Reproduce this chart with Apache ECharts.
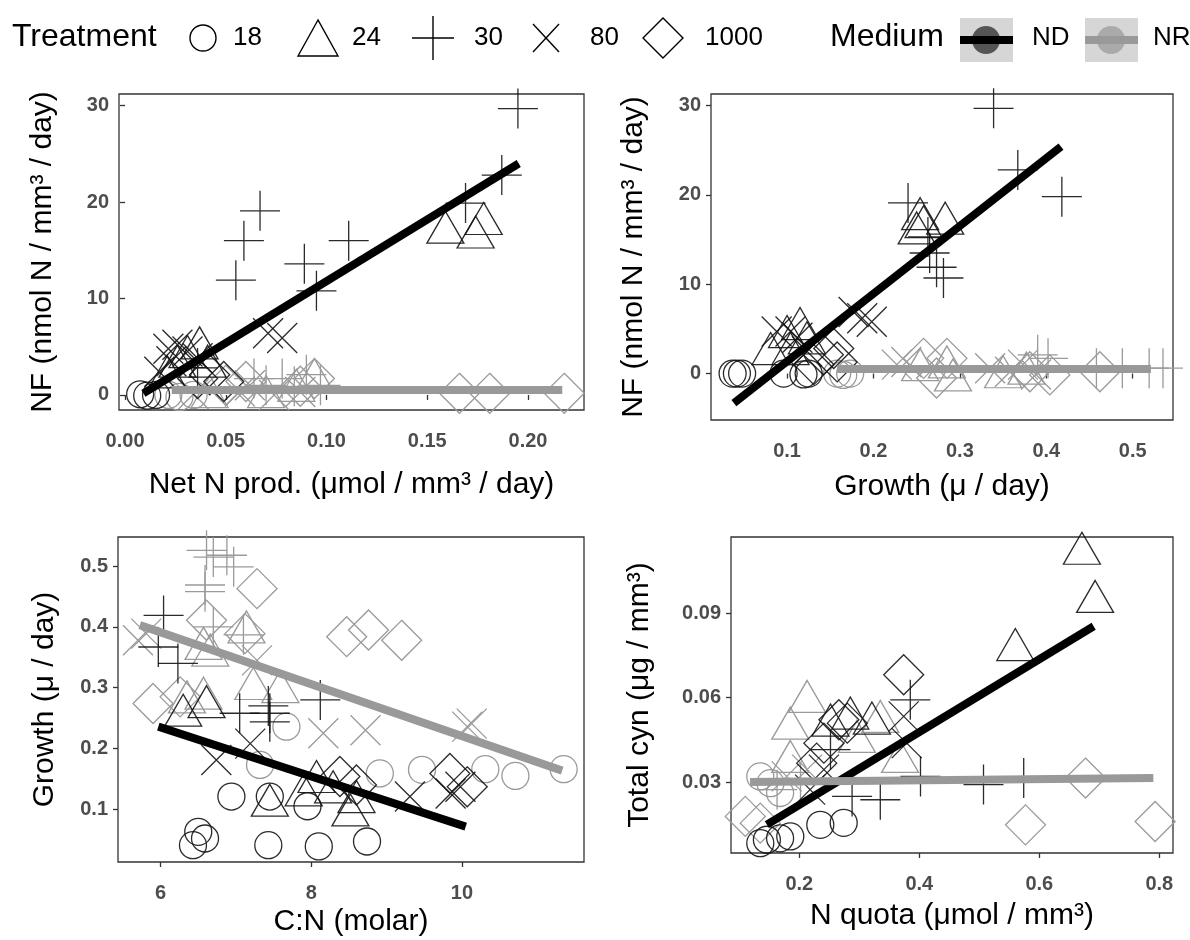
<!DOCTYPE html>
<html>
<head>
<meta charset="utf-8">
<script src="https://cdn.jsdelivr.net/npm/echarts@6/dist/echarts.min.js"></script>
<style>
  html, body { margin: 0; background: #fff; }
  #chart { width: 1190px; height: 940px; }
</style>
</head>
<body>
<div id="chart"></div>
<script>
// levels
const treatments = ['18', '24', '30', '80', '1000'];
const media = ['ND', 'NR'];

// points: [x, y, treatment, medium]
const netNvsNF = [
  [0.195, 29.7, '30', 'ND'], [0.187, 22.8, '30', 'ND'], [0.169, 19.9, '30', 'ND'], [0.067, 19.1, '30', 'ND'],
  [0.059, 16.0, '30', 'ND'], [0.055, 11.9, '30', 'ND'], [0.089, 13.6, '30', 'ND'], [0.095, 10.8, '30', 'ND'],
  [0.111, 16.0, '30', 'ND'], [0.036, 2.8, '30', 'ND'],
  [0.159, 17.4, '24', 'ND'], [0.178, 18.3, '24', 'ND'], [0.174, 16.9, '24', 'ND'], [0.037, 5.4, '24', 'ND'],
  [0.031, 4.5, '24', 'ND'], [0.026, 3.5, '24', 'ND'], [0.041, 3.5, '24', 'ND'], [0.021, 2.4, '24', 'ND'],
  [0.071, 6.4, '80', 'ND'], [0.078, 5.9, '80', 'ND'], [0.0215, 4.8, '80', 'ND'], [0.026, 5.2, '80', 'ND'],
  [0.031, 4.5, '80', 'ND'], [0.023, 3.5, '80', 'ND'], [0.036, 3.8, '80', 'ND'], [0.017, 2.4, '80', 'ND'],
  [0.0075, 0.07, '18', 'ND'], [0.011, -0.07, '18', 'ND'], [0.0154, 0, '18', 'ND'],
  [0.042, 2.1, '1000', 'ND'], [0.049, 1.4, '1000', 'ND'], [0.036, 1.7, '1000', 'ND'],
  [0.0215, 0, '18', 'NR'], [0.027, -0.2, '18', 'NR'], [0.034, 0, '18', 'NR'],
  [0.057, 0.35, '80', 'NR'], [0.062, 1.0, '80', 'NR'], [0.074, 0, '80', 'NR'], [0.034, 0.1, '80', 'NR'], [0.087, 0.3, '80', 'NR'],
  [0.064, 1.7, '30', 'NR'], [0.070, 1.0, '30', 'NR'], [0.078, 1.7, '30', 'NR'], [0.084, 0.9, '30', 'NR'],
  [0.090, 2.1, '30', 'NR'], [0.097, 1.0, '30', 'NR'],
  [0.166, 0.17, '1000', 'NR'], [0.181, 0.17, '1000', 'NR'], [0.218, 0.17, '1000', 'NR'], [0.094, 1.7, '1000', 'NR'],
  [0.087, 0.9, '1000', 'NR'], [0.060, 1.4, '1000', 'NR'], [0.050, 1.0, '1000', 'NR'],
  [0.094, 2.1, '24', 'NR'], [0.085, 1.0, '24', 'NR'], [0.070, 0.35, '24', 'NR'], [0.042, 0.35, '24', 'NR']
];

const growthVsNF = [
  [0.339, 29.7, '30', 'ND'], [0.367, 22.8, '30', 'ND'], [0.418, 19.8, '30', 'ND'], [0.240, 19.1, '30', 'ND'],
  [0.263, 15.3, '30', 'ND'], [0.265, 13.5, '30', 'ND'], [0.273, 11.9, '30', 'ND'], [0.281, 10.7, '30', 'ND'],
  [0.254, 17.9, '24', 'ND'], [0.258, 17.0, '24', 'ND'], [0.283, 17.4, '24', 'ND'], [0.250, 16.3, '24', 'ND'],
  [0.115, 5.6, '24', 'ND'], [0.100, 4.7, '24', 'ND'], [0.081, 2.8, '24', 'ND'], [0.104, 2.8, '24', 'ND'], [0.123, 4.0, '24', 'ND'],
  [0.177, 6.9, '80', 'ND'], [0.187, 6.2, '80', 'ND'], [0.198, 5.8, '80', 'ND'], [0.088, 4.7, '80', 'ND'],
  [0.104, 4.7, '80', 'ND'], [0.112, 4.0, '80', 'ND'], [0.123, 2.5, '80', 'ND'],
  [0.037, 0, '18', 'ND'], [0.042, 0, '18', 'ND'], [0.048, 0, '18', 'ND'], [0.096, 0, '18', 'ND'],
  [0.119, -0.1, '18', 'ND'], [0.125, 0, '18', 'ND'],
  [0.154, 2.8, '1000', 'ND'], [0.142, 2.1, '1000', 'ND'], [0.131, 1.0, '1000', 'ND'], [0.158, 1.3, '1000', 'ND'],
  [0.158, 0, '18', 'NR'], [0.173, 0, '18', 'NR'], [0.165, -0.15, '18', 'NR'],
  [0.227, 1.0, '80', 'NR'], [0.238, 1.3, '80', 'NR'], [0.335, 0.6, '80', 'NR'], [0.358, 0.2, '80', 'NR'],
  [0.373, 1.0, '80', 'NR'], [0.388, -0.1, '80', 'NR'],
  [0.390, 2.1, '30', 'NR'], [0.402, 1.7, '30', 'NR'], [0.458, 0.6, '30', 'NR'], [0.488, 0.6, '30', 'NR'],
  [0.519, 0.6, '30', 'NR'], [0.535, 0.6, '30', 'NR'],
  [0.258, 1.7, '1000', 'NR'], [0.285, 1.7, '1000', 'NR'], [0.462, 0.2, '1000', 'NR'], [0.381, 0.2, '1000', 'NR'],
  [0.404, -0.15, '1000', 'NR'], [0.273, -0.5, '1000', 'NR'],
  [0.285, 1.3, '24', 'NR'], [0.292, -0.15, '24', 'NR'], [0.350, 0.2, '24', 'NR'], [0.254, 1.0, '24', 'NR'], [0.377, 0.6, '24', 'NR']
];

const cnVsGrowth = [
  [6.61, 0.526, '30', 'NR'], [6.70, 0.515, '30', 'NR'], [6.88, 0.518, '30', 'NR'], [6.97, 0.499, '30', 'NR'],
  [6.59, 0.469, '30', 'NR'], [6.59, 0.458, '30', 'NR'], [6.70, 0.400, '30', 'NR'], [7.10, 0.387, '30', 'NR'],
  [7.28, 0.463, '1000', 'NR'], [6.61, 0.411, '1000', 'NR'], [7.12, 0.389, '1000', 'NR'], [8.47, 0.384, '1000', 'NR'],
  [8.76, 0.395, '1000', 'NR'], [9.20, 0.378, '1000', 'NR'], [5.90, 0.274, '1000', 'NR'], [6.26, 0.285, '1000', 'NR'],
  [5.70, 0.378, '80', 'NR'], [5.81, 0.389, '80', 'NR'], [7.28, 0.345, '80', 'NR'], [8.16, 0.225, '80', 'NR'],
  [8.72, 0.230, '80', 'NR'], [10.07, 0.236, '80', 'NR'], [10.13, 0.241, '80', 'NR'],
  [6.57, 0.373, '24', 'NR'], [6.66, 0.362, '24', 'NR'], [7.14, 0.400, '24', 'NR'], [6.35, 0.285, '24', 'NR'],
  [6.57, 0.291, '24', 'NR'], [7.23, 0.307, '24', 'NR'], [7.59, 0.302, '24', 'NR'],
  [7.67, 0.236, '18', 'NR'], [7.32, 0.173, '18', 'NR'], [8.91, 0.159, '18', 'NR'], [9.47, 0.165, '18', 'NR'],
  [10.31, 0.166, '18', 'NR'], [10.71, 0.155, '18', 'NR'], [11.35, 0.166, '18', 'NR'],
  [6.04, 0.419, '30', 'ND'], [5.97, 0.367, '30', 'ND'], [6.23, 0.340, '30', 'ND'], [7.05, 0.258, '30', 'ND'],
  [7.43, 0.270, '30', 'ND'], [7.45, 0.258, '30', 'ND'], [7.45, 0.244, '30', 'ND'], [8.12, 0.280, '30', 'ND'],
  [6.30, 0.263, '24', 'ND'], [6.61, 0.277, '24', 'ND'], [7.45, 0.115, '24', 'ND'], [7.90, 0.132, '24', 'ND'],
  [8.07, 0.154, '24', 'ND'], [8.29, 0.137, '24', 'ND'], [8.52, 0.099, '24', 'ND'], [8.60, 0.121, '24', 'ND'],
  [6.74, 0.181, '80', 'ND'], [7.19, 0.208, '80', 'ND'], [9.31, 0.121, '80', 'ND'], [9.85, 0.126, '80', 'ND'], [9.98, 0.137, '80', 'ND'],
  [9.84, 0.159, '1000', 'ND'], [10.07, 0.137, '1000', 'ND'], [8.38, 0.154, '1000', 'ND'], [8.60, 0.140, '1000', 'ND'],
  [6.94, 0.121, '18', 'ND'], [7.45, 0.121, '18', 'ND'], [6.50, 0.063, '18', 'ND'], [6.59, 0.052, '18', 'ND'],
  [6.43, 0.041, '18', 'ND'], [7.43, 0.041, '18', 'ND'], [8.10, 0.039, '18', 'ND'], [8.74, 0.047, '18', 'ND'], [7.95, 0.105, '18', 'ND']
];

const nQuotaVsCyn = [
  [0.671, 0.113, '24', 'ND'], [0.693, 0.0959, '24', 'ND'], [0.560, 0.0788, '24', 'ND'], [0.285, 0.0545, '24', 'ND'],
  [0.321, 0.0527, '24', 'ND'], [0.252, 0.0520, '24', 'ND'],
  [0.374, 0.0681, '1000', 'ND'], [0.266, 0.0521, '1000', 'ND'], [0.280, 0.0509, '1000', 'ND'], [0.241, 0.0438, '1000', 'ND'],
  [0.229, 0.0367, '1000', 'ND'],
  [0.402, 0.0320, '30', 'ND'], [0.507, 0.0291, '30', 'ND'], [0.574, 0.0314, '30', 'ND'], [0.335, 0.0237, '30', 'ND'],
  [0.288, 0.0249, '30', 'ND'], [0.385, 0.0592, '30', 'ND'], [0.252, 0.0415, '30', 'ND'],
  [0.374, 0.0533, '80', 'ND'], [0.379, 0.0438, '80', 'ND'], [0.241, 0.0344, '80', 'ND'], [0.218, 0.0273, '80', 'ND'],
  [0.146, 0.0095, '18', 'ND'], [0.168, 0.0100, '18', 'ND'], [0.235, 0.0148, '18', 'ND'], [0.274, 0.0155, '18', 'ND'],
  [0.135, 0.0083, '18', 'ND'], [0.185, 0.0107, '18', 'ND'],
  [0.213, 0.0604, '24', 'NR'], [0.185, 0.0509, '24', 'NR'], [0.335, 0.0533, '24', 'NR'], [0.368, 0.0391, '24', 'NR'],
  [0.185, 0.0391, '24', 'NR'], [0.296, 0.0462, '24', 'NR'],
  [0.677, 0.0314, '1000', 'NR'], [0.577, 0.0148, '1000', 'NR'], [0.793, 0.0160, '1000', 'NR'], [0.110, 0.0178, '1000', 'NR'],
  [0.135, 0.0154, '1000', 'NR'],
  [0.135, 0.0320, '18', 'NR'], [0.152, 0.0296, '18', 'NR'], [0.168, 0.0261, '18', 'NR'],
  [0.163, 0.0273, '30', 'NR'], [0.202, 0.0296, '30', 'NR'],
  [0.179, 0.0320, '80', 'NR'], [0.213, 0.0344, '80', 'NR']
];

// fitted lines [[x0, y0], [x1, y1]]
const netNFitND = [[0.0091, 0.17], [0.1954, 24.0]];
const netNFitNR = [[0.0232, 0.52], [0.217, 0.52]];
const growthFitND = [[0.0385, -3.3], [0.417, 25.4]];
const growthFitNR = [[0.158, 0.52], [0.521, 0.52]];
const cnFitND = [[5.97, 0.236], [10.05, 0.0715]];
const cnFitNR = [[5.725, 0.403], [11.33, 0.1636]];
const quotaFitND = [[0.146, 0.01485], [0.6906, 0.0853]];
const quotaFitNR = [[0.118, 0.030], [0.79, 0.0314]];

// tick labels
const p1XTicks = [0, 0.05, 0.1, 0.15, 0.2];
const p1YTicks = [0, 10, 20, 30];
const p2XTicks = [0.1, 0.2, 0.3, 0.4, 0.5];
const p2YTicks = [0, 10, 20, 30];
const p3XTicks = [6, 8, 10];
const p3YTicks = [0.1, 0.2, 0.3, 0.4, 0.5];
const p4XTicks = [0.2, 0.4, 0.6, 0.8];
const p4YTicks = [0.03, 0.06, 0.09];

const FONT = 'Liberation Sans, Arial, sans-serif';
const mediumColor = { ND: 'rgba(20,20,20,0.9)', NR: '#9a9a9a' };
const lineColor = { ND: '#000', NR: '#999' };
const shapeOf = {
  '18': 'circle',
  '24': 'triangle',
  '30': 'path://M0,-20L0,20M-20,0L20,0',
  '80': 'path://M-10,-10L10,10M-10,10L10,-10',
  '1000': 'diamond'
};
const sizeOf = { '18': 27, '24': [37, 32], '30': 40, '80': 30, '1000': 40 };

const panels = [
  { pts: netNvsNF, fit: { ND: netNFitND, NR: netNFitNR }, grid: { left: 119, top: 94, width: 465, height: 316 },
    x: { min: -0.003, max: 0.2278, ticks: p1XTicks, dec: 2, gap: 60, name: 'Net N prod. (\u03bcmol / mm\u00b3 / day)' },
    y: { min: -1.56, max: 31.21, ticks: p1YTicks, dec: 0, gap: 61, name: 'NF (nmol N / mm\u00b3 / day)' } },
  { pts: growthVsNF, fit: { ND: growthFitND, NR: growthFitNR }, grid: { left: 711, top: 94, width: 462, height: 326 },
    x: { min: 0.012, max: 0.5466, ticks: p2XTicks, dec: 1, gap: 52, name: 'Growth (\u03bc / day)' },
    y: { min: -5.2, max: 31.3, ticks: p2YTicks, dec: 0, gap: 62, name: 'NF (nmol N / mm\u00b3 / day)' } },
  { pts: cnVsGrowth, fit: { ND: cnFitND, NR: cnFitNR }, grid: { left: 118, top: 537, width: 466, height: 325 },
    x: { min: 5.435, max: 11.62, ticks: p3XTicks, dec: 0, gap: 45, name: 'C:N (molar)' },
    y: { min: 0.0133, max: 0.548, ticks: p3YTicks, dec: 1, gap: 58, name: 'Growth (\u03bc / day)' } },
  { pts: nQuotaVsCyn, fit: { ND: quotaFitND, NR: quotaFitNR }, grid: { left: 731, top: 537, width: 442, height: 316 },
    x: { min: 0.0862, max: 0.8228, ticks: p4XTicks, dec: 1, gap: 48, name: 'N quota (\u03bcmol / mm\u00b3)' },
    y: { min: 0.0048, max: 0.117, ticks: p4YTicks, dec: 2, gap: 76, name: 'Total cyn (\u03bcg / mm\u00b3)' } }
];

const tickStyle = { show: true, length: 5, lineStyle: { color: '#333', width: 1.3 } };
const labelStyle = { color: '#4d4d4d', fontWeight: 'bold', fontSize: 20, fontFamily: FONT };
const nameStyle = { color: '#000', fontSize: 30, fontFamily: FONT };

const grids = [], xAxes = [], yAxes = [], series = [];
panels.forEach((p, i) => {
  grids.push(Object.assign({ show: true, borderColor: '#333', borderWidth: 1.3, backgroundColor: '#fff' }, p.grid));
  xAxes.push({
    type: 'value', gridIndex: i, min: p.x.min, max: p.x.max,
    axisLine: { show: false }, splitLine: { show: false },
    axisTick: Object.assign({ customValues: p.x.ticks }, tickStyle),
    axisLabel: Object.assign({ customValues: p.x.ticks, margin: 21, formatter: v => v.toFixed(p.x.dec) }, labelStyle),
    name: p.x.name, nameLocation: 'middle', nameGap: p.x.gap, nameTextStyle: nameStyle
  });
  yAxes.push({
    type: 'value', gridIndex: i, min: p.y.min, max: p.y.max,
    axisLine: { show: false }, splitLine: { show: false },
    axisTick: Object.assign({ customValues: p.y.ticks }, tickStyle),
    axisLabel: Object.assign({ customValues: p.y.ticks, margin: 10, formatter: v => v.toFixed(p.y.dec) }, labelStyle),
    name: p.y.name, nameLocation: 'middle', nameRotate: 90, nameGap: p.y.gap, nameTextStyle: nameStyle
  });
  // NR points first, ND on top
  ['NR', 'ND'].forEach(m => {
    treatments.forEach(t => {
      const data = p.pts.filter(d => d[2] === t && d[3] === m).map(d => [d[0], d[1]]);
      if (!data.length) return;
      series.push({
        type: 'scatter', name: t, xAxisIndex: i, yAxisIndex: i, data,
        symbol: shapeOf[t], symbolSize: sizeOf[t], silent: true,
        itemStyle: { color: 'rgba(0,0,0,0)', borderColor: mediumColor[m], borderWidth: 1.3, opacity: 1 },
        z: 2
      });
    });
  });
  media.forEach(m => {
    series.push({
      type: 'line', name: m, xAxisIndex: i, yAxisIndex: i, data: p.fit[m],
      symbol: 'none', silent: true, z: m === 'ND' ? 4 : 5,
      lineStyle: { color: lineColor[m], width: 8, cap: 'butt' }
    });
  });
});

// key at the top
const legendText = (text, x, size) => ({
  type: 'text', left: x, top: 39 - size * 0.55,
  style: { text, fontSize: size, fontFamily: FONT, fill: '#000' }
});
const keyStroke = { fill: 'none', stroke: '#000', lineWidth: 1.4 };
const graphic = [
  legendText('Treatment', 12, 32),
  { type: 'circle', shape: { cx: 203, cy: 38, r: 13 }, style: keyStroke },
  legendText('18', 233, 26),
  { type: 'polygon', shape: { points: [[318, 20], [298, 56], [338, 56]] }, style: keyStroke },
  legendText('24', 352, 26),
  { type: 'polyline', shape: { points: [[433, 16], [433, 60]] }, style: keyStroke },
  { type: 'polyline', shape: { points: [[412, 38], [454, 38]] }, style: keyStroke },
  legendText('30', 474, 26),
  { type: 'polyline', shape: { points: [[533, 24], [559, 52]] }, style: keyStroke },
  { type: 'polyline', shape: { points: [[533, 52], [559, 24]] }, style: keyStroke },
  legendText('80', 590, 26),
  { type: 'polygon', shape: { points: [[663, 18], [683, 38], [663, 58], [643, 38]] }, style: keyStroke },
  legendText('1000', 705, 26),
  legendText('Medium', 830, 32),
  { type: 'rect', shape: { x: 960, y: 18, width: 53, height: 44 }, style: { fill: '#d6d6d6' } },
  { type: 'circle', shape: { cx: 986, cy: 40, r: 14 }, style: { fill: '#555' } },
  { type: 'rect', shape: { x: 960, y: 36, width: 53, height: 8 }, style: { fill: '#000' } },
  legendText('ND', 1032, 26),
  { type: 'rect', shape: { x: 1085, y: 18, width: 53, height: 44 }, style: { fill: '#d6d6d6' } },
  { type: 'circle', shape: { cx: 1111, cy: 40, r: 14 }, style: { fill: '#aaa' } },
  { type: 'rect', shape: { x: 1085, y: 36, width: 53, height: 8 }, style: { fill: '#999' } },
  legendText('NR', 1153, 26)
];

const chart = echarts.init(document.getElementById('chart'), null, { renderer: 'canvas' });
chart.setOption({
  backgroundColor: '#fff',
  animation: false,
  textStyle: { fontFamily: FONT },
  grid: grids,
  xAxis: xAxes,
  yAxis: yAxes,
  series,
  graphic
});
window.addEventListener('resize', () => chart.resize());
</script>
</body>
</html>
